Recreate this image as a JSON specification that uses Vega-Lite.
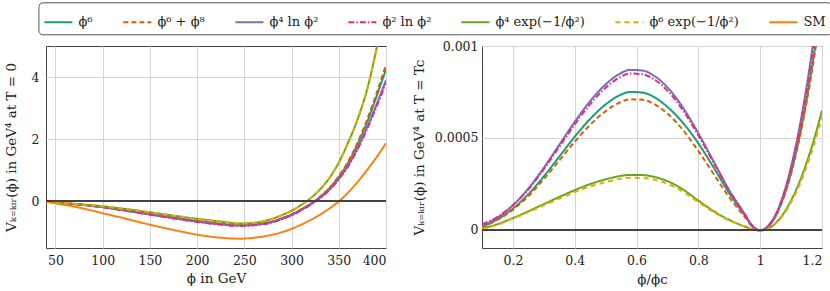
{
  "$schema": "https://vega.github.io/schema/vega-lite/v6.json",
  "padding": {"left": 3, "top": 1, "right": 1, "bottom": 1},
  "background": "white",
  "bounds": "flush",
  "spacing": 96,
  "config": {
    "font": "DejaVu Serif",
    "view": {"stroke": "#444444", "strokeWidth": 1},
    "axis": {
      "domain": false, "ticks": false, "gridColor": "#d4d4d4", "gridWidth": 1,
      "labelFont": "DejaVu Serif", "labelFontSize": 12.5, "labelColor": "#222222",
      "titleFont": "DejaVu Serif", "titleFontSize": 13.5, "titleFontWeight": "normal", "titleColor": "#222222"
    },
    "legend": {
      "orient": "none", "legendX": -7.6, "legendY": -43.7, "direction": "horizontal", "columns": 7,
      "columnPadding": 26, "symbolType": "stroke", "symbolSize": 784, "symbolStrokeWidth": 2,
      "labelFont": "DejaVu Serif", "labelFontSize": 13, "labelColor": "#222222", "labelOffset": 5,
      "strokeColor": "#555555", "fillColor": "white", "cornerRadius": 4, "padding": 5
    }
  },
  "datasets": {
    "t0": [
      {"m":"p6","x":40,"y":0},{"m":"p6","x":50,"y":-0.04},{"m":"p6","x":75,"y":-0.1},{"m":"p6","x":100,"y":-0.18},{"m":"p6","x":125,"y":-0.29},{"m":"p6","x":150,"y":-0.41},{"m":"p6","x":175,"y":-0.52},{"m":"p6","x":200,"y":-0.63},{"m":"p6","x":225,"y":-0.72},{"m":"p6","x":245,"y":-0.76},{"m":"p6","x":260,"y":-0.74},{"m":"p6","x":275,"y":-0.68},{"m":"p6","x":290,"y":-0.54},{"m":"p6","x":300,"y":-0.42},{"m":"p6","x":310,"y":-0.26},{"m":"p6","x":320,"y":-0.08},{"m":"p6","x":330,"y":0.14},{"m":"p6","x":340,"y":0.42},{"m":"p6","x":350,"y":0.79},{"m":"p6","x":360,"y":1.25},{"m":"p6","x":370,"y":1.85},{"m":"p6","x":380,"y":2.55},{"m":"p6","x":390,"y":3.38},{"m":"p6","x":400,"y":4.25},
      {"m":"p68","x":40,"y":0},{"m":"p68","x":50,"y":-0.04},{"m":"p68","x":75,"y":-0.1},{"m":"p68","x":100,"y":-0.18},{"m":"p68","x":125,"y":-0.29},{"m":"p68","x":150,"y":-0.41},{"m":"p68","x":175,"y":-0.52},{"m":"p68","x":200,"y":-0.63},{"m":"p68","x":225,"y":-0.72},{"m":"p68","x":245,"y":-0.76},{"m":"p68","x":260,"y":-0.74},{"m":"p68","x":275,"y":-0.68},{"m":"p68","x":290,"y":-0.54},{"m":"p68","x":300,"y":-0.42},{"m":"p68","x":310,"y":-0.26},{"m":"p68","x":320,"y":-0.08},{"m":"p68","x":330,"y":0.15},{"m":"p68","x":340,"y":0.43},{"m":"p68","x":350,"y":0.81},{"m":"p68","x":360,"y":1.29},{"m":"p68","x":370,"y":1.9},{"m":"p68","x":380,"y":2.63},{"m":"p68","x":390,"y":3.48},{"m":"p68","x":400,"y":4.4},
      {"m":"p4l","x":40,"y":0},{"m":"p4l","x":50,"y":-0.04},{"m":"p4l","x":75,"y":-0.1},{"m":"p4l","x":100,"y":-0.185},{"m":"p4l","x":125,"y":-0.3},{"m":"p4l","x":150,"y":-0.42},{"m":"p4l","x":175,"y":-0.54},{"m":"p4l","x":200,"y":-0.65},{"m":"p4l","x":225,"y":-0.74},{"m":"p4l","x":245,"y":-0.78},{"m":"p4l","x":260,"y":-0.76},{"m":"p4l","x":275,"y":-0.7},{"m":"p4l","x":290,"y":-0.56},{"m":"p4l","x":300,"y":-0.44},{"m":"p4l","x":310,"y":-0.28},{"m":"p4l","x":320,"y":-0.1},{"m":"p4l","x":330,"y":0.11},{"m":"p4l","x":340,"y":0.38},{"m":"p4l","x":350,"y":0.73},{"m":"p4l","x":360,"y":1.16},{"m":"p4l","x":370,"y":1.72},{"m":"p4l","x":380,"y":2.38},{"m":"p4l","x":390,"y":3.12},{"m":"p4l","x":400,"y":3.9},
      {"m":"p2l","x":40,"y":0},{"m":"p2l","x":50,"y":-0.045},{"m":"p2l","x":75,"y":-0.105},{"m":"p2l","x":100,"y":-0.19},{"m":"p2l","x":125,"y":-0.305},{"m":"p2l","x":150,"y":-0.43},{"m":"p2l","x":175,"y":-0.55},{"m":"p2l","x":200,"y":-0.66},{"m":"p2l","x":225,"y":-0.75},{"m":"p2l","x":245,"y":-0.79},{"m":"p2l","x":260,"y":-0.77},{"m":"p2l","x":275,"y":-0.71},{"m":"p2l","x":290,"y":-0.57},{"m":"p2l","x":300,"y":-0.45},{"m":"p2l","x":310,"y":-0.29},{"m":"p2l","x":320,"y":-0.11},{"m":"p2l","x":330,"y":0.1},{"m":"p2l","x":340,"y":0.36},{"m":"p2l","x":350,"y":0.71},{"m":"p2l","x":360,"y":1.13},{"m":"p2l","x":370,"y":1.68},{"m":"p2l","x":380,"y":2.33},{"m":"p2l","x":390,"y":3.05},{"m":"p2l","x":400,"y":3.8},
      {"m":"p4e","x":40,"y":0},{"m":"p4e","x":50,"y":-0.03},{"m":"p4e","x":75,"y":-0.09},{"m":"p4e","x":100,"y":-0.155},{"m":"p4e","x":125,"y":-0.25},{"m":"p4e","x":150,"y":-0.35},{"m":"p4e","x":175,"y":-0.46},{"m":"p4e","x":200,"y":-0.56},{"m":"p4e","x":225,"y":-0.65},{"m":"p4e","x":245,"y":-0.71},{"m":"p4e","x":260,"y":-0.69},{"m":"p4e","x":275,"y":-0.6},{"m":"p4e","x":290,"y":-0.44},{"m":"p4e","x":300,"y":-0.3},{"m":"p4e","x":310,"y":-0.12},{"m":"p4e","x":320,"y":0.1},{"m":"p4e","x":330,"y":0.38},{"m":"p4e","x":340,"y":0.75},{"m":"p4e","x":350,"y":1.25},{"m":"p4e","x":360,"y":1.9},{"m":"p4e","x":370,"y":2.65},{"m":"p4e","x":380,"y":3.6},{"m":"p4e","x":390,"y":4.92},{"m":"p4e","x":400,"y":6.5},
      {"m":"p6e","x":40,"y":0},{"m":"p6e","x":50,"y":-0.03},{"m":"p6e","x":75,"y":-0.09},{"m":"p6e","x":100,"y":-0.155},{"m":"p6e","x":125,"y":-0.25},{"m":"p6e","x":150,"y":-0.35},{"m":"p6e","x":175,"y":-0.46},{"m":"p6e","x":200,"y":-0.56},{"m":"p6e","x":225,"y":-0.65},{"m":"p6e","x":245,"y":-0.71},{"m":"p6e","x":260,"y":-0.69},{"m":"p6e","x":275,"y":-0.6},{"m":"p6e","x":290,"y":-0.44},{"m":"p6e","x":300,"y":-0.3},{"m":"p6e","x":310,"y":-0.12},{"m":"p6e","x":320,"y":0.1},{"m":"p6e","x":330,"y":0.38},{"m":"p6e","x":340,"y":0.75},{"m":"p6e","x":350,"y":1.25},{"m":"p6e","x":360,"y":1.9},{"m":"p6e","x":370,"y":2.65},{"m":"p6e","x":380,"y":3.6},{"m":"p6e","x":390,"y":4.92},{"m":"p6e","x":400,"y":6.5},
      {"m":"SM","x":40,"y":0},{"m":"SM","x":50,"y":-0.06},{"m":"SM","x":75,"y":-0.2},{"m":"SM","x":100,"y":-0.38},{"m":"SM","x":125,"y":-0.56},{"m":"SM","x":150,"y":-0.75},{"m":"SM","x":175,"y":-0.92},{"m":"SM","x":200,"y":-1.07},{"m":"SM","x":225,"y":-1.17},{"m":"SM","x":245,"y":-1.2},{"m":"SM","x":260,"y":-1.17},{"m":"SM","x":275,"y":-1.1},{"m":"SM","x":290,"y":-0.99},{"m":"SM","x":300,"y":-0.88},{"m":"SM","x":310,"y":-0.75},{"m":"SM","x":320,"y":-0.6},{"m":"SM","x":330,"y":-0.43},{"m":"SM","x":340,"y":-0.23},{"m":"SM","x":350,"y":0},{"m":"SM","x":360,"y":0.29},{"m":"SM","x":370,"y":0.63},{"m":"SM","x":380,"y":1.01},{"m":"SM","x":390,"y":1.42},{"m":"SM","x":400,"y":1.87}
    ],
    "tc": [
      {"m":"p6","x":0.1,"y":0.000015},{"m":"p6","x":0.15,"y":0.000056},{"m":"p6","x":0.2,"y":0.000115},{"m":"p6","x":0.25,"y":0.000193},{"m":"p6","x":0.3,"y":0.00029},{"m":"p6","x":0.35,"y":0.000398},{"m":"p6","x":0.4,"y":0.000506},{"m":"p6","x":0.45,"y":0.000603},{"m":"p6","x":0.5,"y":0.000682},{"m":"p6","x":0.54,"y":0.000727},{"m":"p6","x":0.58,"y":0.00075},{"m":"p6","x":0.62,"y":0.000746},{"m":"p6","x":0.66,"y":0.000719},{"m":"p6","x":0.7,"y":0.000668},{"m":"p6","x":0.75,"y":0.000582},{"m":"p6","x":0.8,"y":0.00047},{"m":"p6","x":0.85,"y":0.000337},{"m":"p6","x":0.9,"y":0.000197},{"m":"p6","x":0.95,"y":0.000078},{"m":"p6","x":0.975,"y":0.000018},{"m":"p6","x":1.0,"y":-0.000004},{"m":"p6","x":1.025,"y":0.000016},{"m":"p6","x":1.05,"y":0.000075},{"m":"p6","x":1.075,"y":0.000174},{"m":"p6","x":1.1,"y":0.000312},{"m":"p6","x":1.125,"y":0.00049},{"m":"p6","x":1.15,"y":0.000707},{"m":"p6","x":1.175,"y":0.000964},{"m":"p6","x":1.2,"y":0.00126},
      {"m":"p68","x":0.1,"y":0.000012},{"m":"p68","x":0.15,"y":0.000053},{"m":"p68","x":0.2,"y":0.000109},{"m":"p68","x":0.25,"y":0.000183},{"m":"p68","x":0.3,"y":0.000275},{"m":"p68","x":0.35,"y":0.000377},{"m":"p68","x":0.4,"y":0.000479},{"m":"p68","x":0.45,"y":0.000571},{"m":"p68","x":0.5,"y":0.000645},{"m":"p68","x":0.54,"y":0.000688},{"m":"p68","x":0.58,"y":0.00071},{"m":"p68","x":0.62,"y":0.000707},{"m":"p68","x":0.66,"y":0.000681},{"m":"p68","x":0.7,"y":0.000632},{"m":"p68","x":0.75,"y":0.000543},{"m":"p68","x":0.8,"y":0.000428},{"m":"p68","x":0.85,"y":0.000302},{"m":"p68","x":0.9,"y":0.000175},{"m":"p68","x":0.95,"y":0.000069},{"m":"p68","x":0.975,"y":0.000016},{"m":"p68","x":1.0,"y":-0.000004},{"m":"p68","x":1.025,"y":0.000015},{"m":"p68","x":1.05,"y":0.000073},{"m":"p68","x":1.075,"y":0.00017},{"m":"p68","x":1.1,"y":0.000305},{"m":"p68","x":1.125,"y":0.000479},{"m":"p68","x":1.15,"y":0.000691},{"m":"p68","x":1.175,"y":0.000942},{"m":"p68","x":1.2,"y":0.00123},
      {"m":"p4l","x":0.1,"y":0.00002},{"m":"p4l","x":0.15,"y":0.000065},{"m":"p4l","x":0.2,"y":0.000133},{"m":"p4l","x":0.25,"y":0.000224},{"m":"p4l","x":0.3,"y":0.000337},{"m":"p4l","x":0.35,"y":0.000462},{"m":"p4l","x":0.4,"y":0.000587},{"m":"p4l","x":0.45,"y":0.0007},{"m":"p4l","x":0.5,"y":0.000791},{"m":"p4l","x":0.54,"y":0.000843},{"m":"p4l","x":0.58,"y":0.00087},{"m":"p4l","x":0.62,"y":0.000866},{"m":"p4l","x":0.66,"y":0.000834},{"m":"p4l","x":0.7,"y":0.000775},{"m":"p4l","x":0.75,"y":0.000665},{"m":"p4l","x":0.8,"y":0.000525},{"m":"p4l","x":0.85,"y":0.00037},{"m":"p4l","x":0.9,"y":0.000215},{"m":"p4l","x":0.95,"y":0.000085},{"m":"p4l","x":0.975,"y":0.00002},{"m":"p4l","x":1.0,"y":-0.000004},{"m":"p4l","x":1.025,"y":0.00002},{"m":"p4l","x":1.05,"y":0.000083},{"m":"p4l","x":1.075,"y":0.00019},{"m":"p4l","x":1.1,"y":0.000343},{"m":"p4l","x":1.125,"y":0.000538},{"m":"p4l","x":1.15,"y":0.000777},{"m":"p4l","x":1.175,"y":0.00106},{"m":"p4l","x":1.2,"y":0.00139},
      {"m":"p2l","x":0.1,"y":0.00003},{"m":"p2l","x":0.15,"y":0.00007},{"m":"p2l","x":0.2,"y":0.000133},{"m":"p2l","x":0.25,"y":0.000219},{"m":"p2l","x":0.3,"y":0.000329},{"m":"p2l","x":0.35,"y":0.000451},{"m":"p2l","x":0.4,"y":0.000573},{"m":"p2l","x":0.45,"y":0.000684},{"m":"p2l","x":0.5,"y":0.000773},{"m":"p2l","x":0.54,"y":0.000824},{"m":"p2l","x":0.58,"y":0.00085},{"m":"p2l","x":0.62,"y":0.000846},{"m":"p2l","x":0.66,"y":0.000815},{"m":"p2l","x":0.7,"y":0.000757},{"m":"p2l","x":0.75,"y":0.00065},{"m":"p2l","x":0.8,"y":0.000513},{"m":"p2l","x":0.85,"y":0.000362},{"m":"p2l","x":0.9,"y":0.00021},{"m":"p2l","x":0.95,"y":0.000083},{"m":"p2l","x":0.975,"y":0.00002},{"m":"p2l","x":1.0,"y":-0.000004},{"m":"p2l","x":1.025,"y":0.000017},{"m":"p2l","x":1.05,"y":0.00008},{"m":"p2l","x":1.075,"y":0.000185},{"m":"p2l","x":1.1,"y":0.000332},{"m":"p2l","x":1.125,"y":0.000521},{"m":"p2l","x":1.15,"y":0.000752},{"m":"p2l","x":1.175,"y":0.001025},{"m":"p2l","x":1.2,"y":0.00134},
      {"m":"p4e","x":0.1,"y":0.000005},{"m":"p4e","x":0.15,"y":0.00003},{"m":"p4e","x":0.2,"y":0.000063},{"m":"p4e","x":0.25,"y":0.0001},{"m":"p4e","x":0.3,"y":0.000139},{"m":"p4e","x":0.35,"y":0.000178},{"m":"p4e","x":0.4,"y":0.000215},{"m":"p4e","x":0.45,"y":0.000248},{"m":"p4e","x":0.5,"y":0.000274},{"m":"p4e","x":0.54,"y":0.00029},{"m":"p4e","x":0.58,"y":0.000298},{"m":"p4e","x":0.62,"y":0.000297},{"m":"p4e","x":0.66,"y":0.000286},{"m":"p4e","x":0.7,"y":0.000264},{"m":"p4e","x":0.75,"y":0.000219},{"m":"p4e","x":0.8,"y":0.000158},{"m":"p4e","x":0.85,"y":0.0001},{"m":"p4e","x":0.9,"y":0.000053},{"m":"p4e","x":0.95,"y":0.000017},{"m":"p4e","x":0.975,"y":0.000002},{"m":"p4e","x":1.0,"y":-0.000005},{"m":"p4e","x":1.025,"y":0.000004},{"m":"p4e","x":1.05,"y":0.000036},{"m":"p4e","x":1.075,"y":0.000087},{"m":"p4e","x":1.1,"y":0.000159},{"m":"p4e","x":1.125,"y":0.00025},{"m":"p4e","x":1.15,"y":0.000363},{"m":"p4e","x":1.175,"y":0.000496},{"m":"p4e","x":1.2,"y":0.000649},
      {"m":"p6e","x":0.1,"y":0.000003},{"m":"p6e","x":0.15,"y":0.000027},{"m":"p6e","x":0.2,"y":0.00006},{"m":"p6e","x":0.25,"y":0.000095},{"m":"p6e","x":0.3,"y":0.000132},{"m":"p6e","x":0.35,"y":0.000169},{"m":"p6e","x":0.4,"y":0.000204},{"m":"p6e","x":0.45,"y":0.000235},{"m":"p6e","x":0.5,"y":0.000259},{"m":"p6e","x":0.54,"y":0.000275},{"m":"p6e","x":0.58,"y":0.000282},{"m":"p6e","x":0.62,"y":0.000281},{"m":"p6e","x":0.66,"y":0.000271},{"m":"p6e","x":0.7,"y":0.00025},{"m":"p6e","x":0.75,"y":0.000207},{"m":"p6e","x":0.8,"y":0.00015},{"m":"p6e","x":0.85,"y":0.000095},{"m":"p6e","x":0.9,"y":0.00005},{"m":"p6e","x":0.95,"y":0.000016},{"m":"p6e","x":0.975,"y":0.000001},{"m":"p6e","x":1.0,"y":-0.000006},{"m":"p6e","x":1.025,"y":0.000003},{"m":"p6e","x":1.05,"y":0.000033},{"m":"p6e","x":1.075,"y":0.000081},{"m":"p6e","x":1.1,"y":0.000149},{"m":"p6e","x":1.125,"y":0.000235},{"m":"p6e","x":1.15,"y":0.000342},{"m":"p6e","x":1.175,"y":0.000467},{"m":"p6e","x":1.2,"y":0.000612}
    ]
  },
  "hconcat": [
    {
      "width": 340, "height": 202,
      "data": {"name": "t0"},
      "layer": [
        {
          "mark": {"type": "line", "strokeWidth": 2, "clip": true, "interpolate": "monotone"},
          "encoding": {
            "x": {"field": "x", "type": "quantitative", "scale": {"domain": [40, 400], "nice": false, "zero": false},
                  "axis": {"values": [50, 100, 150, 200, 250, 300, 350, 400], "title": "ϕ in GeV", "labelPadding": 6, "titlePadding": 5}},
            "y": {"field": "y", "type": "quantitative", "scale": {"domain": [-1.5, 5], "nice": false},
                  "axis": {"values": [0, 2, 4], "title": "Vₖ₌ₖᵢᵣ(ϕ) in GeV⁴ at T = 0", "labelPadding": 7, "titlePadding": 13}},
            "color": {"field": "m", "type": "nominal",
                      "scale": {"domain": ["p6", "p68", "p4l", "p2l", "p4e", "p6e", "SM"], "range": ["#1b9e77", "#d95f02", "#7570b3", "#e7298a", "#66a61e", "#e6ab02", "#ff7f0e"]},
                      "legend": {"title": null, "labelExpr": "{'p6':'ϕ⁶','p68':'ϕ⁶ + ϕ⁸','p4l':'ϕ⁴ ln ϕ²','p2l':'ϕ² ln ϕ²','p4e':'ϕ⁴ exp(−1/ϕ²)','p6e':'ϕ⁶ exp(−1/ϕ²)','SM':'SM'}[datum.label]"}},
            "strokeDash": {"field": "m", "type": "nominal",
                      "scale": {"domain": ["p6", "p68", "p4l", "p2l", "p4e", "p6e", "SM"], "range": [[1, 0], [5, 3], [1, 0], [6, 2, 1.5, 2], [1, 0], [5, 4], [1, 0]]},
                      "legend": {"title": null, "labelExpr": "{'p6':'ϕ⁶','p68':'ϕ⁶ + ϕ⁸','p4l':'ϕ⁴ ln ϕ²','p2l':'ϕ² ln ϕ²','p4e':'ϕ⁴ exp(−1/ϕ²)','p6e':'ϕ⁶ exp(−1/ϕ²)','SM':'SM'}[datum.label]"}}
          }
        },
        {"mark": {"type": "rule", "color": "#444444", "strokeWidth": 1}, "encoding": {"y": {"datum": 0}}}
      ]
    },
    {
      "width": 340, "height": 202,
      "data": {"name": "tc"},
      "layer": [
        {
          "mark": {"type": "line", "strokeWidth": 2, "clip": true, "interpolate": "monotone"},
          "encoding": {
            "x": {"field": "x", "type": "quantitative", "scale": {"domain": [0.1, 1.2], "nice": false, "zero": false},
                  "axis": {"values": [0.2, 0.4, 0.6, 0.8, 1.0, 1.2], "format": "~g", "title": "ϕ/ϕc", "labelPadding": 6, "titlePadding": 6}},
            "y": {"field": "y", "type": "quantitative", "scale": {"domain": [-0.0001, 0.001], "nice": false, "zero": false},
                  "axis": {"values": [0, 0.0005, 0.001], "format": "~g", "title": "Vₖ₌ₖᵢᵣ(ϕ) in GeV⁴ at T = Tc", "labelPadding": 4, "titlePadding": 8}},
            "color": {"field": "m", "type": "nominal",
                      "scale": {"domain": ["p6", "p68", "p4l", "p2l", "p4e", "p6e", "SM"], "range": ["#1b9e77", "#d95f02", "#7570b3", "#e7298a", "#66a61e", "#e6ab02", "#ff7f0e"]},
                      "legend": {"title": null, "labelExpr": "{'p6':'ϕ⁶','p68':'ϕ⁶ + ϕ⁸','p4l':'ϕ⁴ ln ϕ²','p2l':'ϕ² ln ϕ²','p4e':'ϕ⁴ exp(−1/ϕ²)','p6e':'ϕ⁶ exp(−1/ϕ²)','SM':'SM'}[datum.label]"}},
            "strokeDash": {"field": "m", "type": "nominal",
                      "scale": {"domain": ["p6", "p68", "p4l", "p2l", "p4e", "p6e", "SM"], "range": [[1, 0], [5, 3], [1, 0], [6, 2, 1.5, 2], [1, 0], [5, 4], [1, 0]]},
                      "legend": {"title": null, "labelExpr": "{'p6':'ϕ⁶','p68':'ϕ⁶ + ϕ⁸','p4l':'ϕ⁴ ln ϕ²','p2l':'ϕ² ln ϕ²','p4e':'ϕ⁴ exp(−1/ϕ²)','p6e':'ϕ⁶ exp(−1/ϕ²)','SM':'SM'}[datum.label]"}}
          }
        },
        {"mark": {"type": "rule", "color": "#444444", "strokeWidth": 1}, "encoding": {"y": {"datum": 0}}}
      ]
    }
  ],
  "resolve": {"scale": {"color": "shared", "strokeDash": "shared"}, "legend": {"color": "shared", "strokeDash": "shared"}}
}
